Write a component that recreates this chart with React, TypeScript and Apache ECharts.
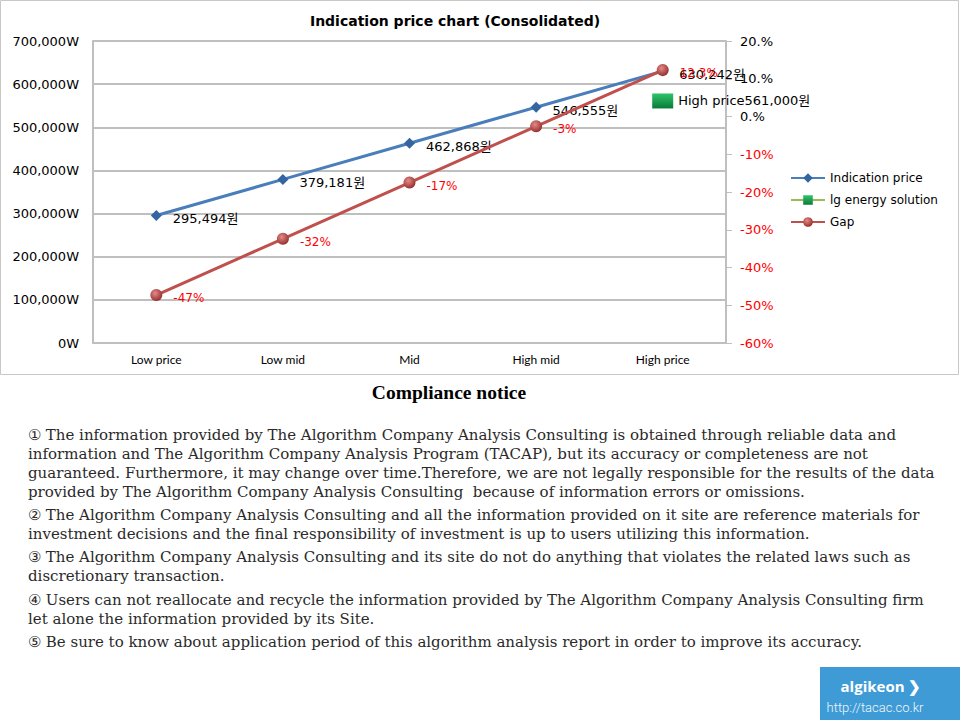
import React, { useEffect, useRef } from "react";
import * as echarts from "echarts";

const categories = ["Low price", "Low mid", "Mid", "High mid", "High price"];
const indicationPrice = [295494, 379181, 462868, 546555, 630242];
const lgEnergySolution = [null, null, null, null, 561000];
const gapValues = [-47.3, -32.4, -17.5, -2.6, 12.3];
const gapLabels = ["-47%", "-32%", "-17%", "-3%", "12.3%"];
const leftTicks = { min: 0, max: 700000, interval: 100000 };
const rightTicks = { min: -60, max: 20, interval: 10 };

const noticeLines: { text: string; y: number }[] = [
  { text: "① The information provided by The Algorithm Company Analysis Consulting is obtained through reliable data and", y: 435 },
  { text: "information and The Algorithm Company Analysis Program (TACAP), but its accuracy or completeness are not", y: 454 },
  { text: "guaranteed. Furthermore, it may change over time.Therefore, we are not legally responsible for the results of the data", y: 473 },
  { text: "provided by The Algorithm Company Analysis Consulting  because of information errors or omissions.", y: 492 },
  { text: "② The Algorithm Company Analysis Consulting and all the information provided on it site are reference materials for", y: 515 },
  { text: "investment decisions and the final responsibility of investment is up to users utilizing this information.", y: 534 },
  { text: "③ The Algorithm Company Analysis Consulting and its site do not do anything that violates the related laws such as", y: 557 },
  { text: "discretionary transaction.", y: 576 },
  { text: "④ Users can not reallocate and recycle the information provided by The Algorithm Company Analysis Consulting firm", y: 600 },
  { text: "let alone the information provided by its Site.", y: 619 },
  { text: "⑤ Be sure to know about application period of this algorithm analysis report in order to improve its accuracy.", y: 642 },
];

export default function App() {
  const ref = useRef<HTMLDivElement>(null);
  useEffect(() => {
    if (!ref.current) return;
    const chart = echarts.init(ref.current, null, { renderer: "svg" });
    const gray = "#BFBFBF";
    const option: any = {
      animation: false,
      backgroundColor: "#ffffff",
      grid: { left: 93, right: 234, top: 41, bottom: 377, containLabel: false },
      legend: {
        orient: "vertical",
        left: 785,
        top: 167,
        itemWidth: 34,
        itemHeight: 12,
        itemGap: 10,
        textStyle: { fontFamily: "DejaVu Sans", fontSize: 12, color: "#000" },
        data: ["Indication price", "lg energy solution", "Gap"],
      },
      xAxis: {
        type: "category",
        data: categories,
        boundaryGap: true,
        axisLine: { show: true, lineStyle: { color: gray, width: 2 } },
        axisTick: { show: false },
        axisLabel: { fontFamily: "Lato", fontSize: 12, color: "#000", margin: 10 },
      },
      yAxis: [
        {
          type: "value",
          min: leftTicks.min,
          max: leftTicks.max,
          interval: leftTicks.interval,
          axisLine: { show: true, lineStyle: { color: gray, width: 2 } },
          axisTick: { show: false },
          splitLine: { show: true, lineStyle: { color: gray, width: 2 } },
          axisLabel: {
            fontFamily: "DejaVu Sans",
            fontSize: 13,
            color: "#000",
            margin: 14,
            formatter: (v: number) => v.toLocaleString("en-US") + "W",
          },
        },
        {
          type: "value",
          min: rightTicks.min,
          max: rightTicks.max,
          interval: rightTicks.interval,
          position: "right",
          axisLine: { show: true, lineStyle: { color: gray, width: 2 } },
          axisTick: { show: true, length: 6, lineStyle: { color: gray, width: 1 } },
          splitLine: { show: false },
          axisLabel: {
            fontFamily: "DejaVu Sans",
            fontSize: 13,
            margin: 14,
            color: (v: any) => (Number(v) < 0 ? "#FF0000" : "#000000"),
            formatter: (v: number) => (v >= 0 ? v + ".%" : v + "%"),
          },
        },
      ],
      series: [
        {
          name: "Indication price",
          type: "line",
          yAxisIndex: 0,
          data: indicationPrice,
          symbol: "diamond",
          symbolSize: 11,
          color: "#4A7EBB",
          lineStyle: { color: "#4A7EBB", width: 3 },
          itemStyle: { color: "#3465A0" },
          label: {
            show: true,
            position: "right",
            offset: [6, 3],
            fontFamily: "DejaVu Sans, Noto Sans CJK KR",
            fontSize: 13,
            color: "#000",
            formatter: (p: any) => p.value.toLocaleString("en-US") + "원",
          },
          z: 2,
        },
        {
          name: "lg energy solution",
          type: "line",
          yAxisIndex: 0,
          data: lgEnergySolution,
          symbol: "rect",
          symbolSize: [21, 15],
          color: "#9BBB59",
          lineStyle: { color: "#9BBB59", width: 3 },
          itemStyle: {
            color: new echarts.graphic.LinearGradient(0, 0, 0, 1, [
              { offset: 0, color: "#2FC46A" },
              { offset: 1, color: "#0A7A37" },
            ]),
          },
          label: {
            show: true,
            position: "right",
            offset: [0, 0],
            fontFamily: "DejaVu Sans, Noto Sans CJK KR",
            fontSize: 13,
            color: "#000",
            formatter: (p: any) => "High price" + p.value.toLocaleString("en-US") + "원",
          },
          z: 3,
        },
        {
          name: "Gap",
          type: "line",
          yAxisIndex: 1,
          data: gapValues,
          symbol: "circle",
          symbolSize: 12,
          color: "#BE4B48",
          lineStyle: { color: "#C0504D", width: 3 },
          itemStyle: {
            color: new echarts.graphic.RadialGradient(0.4, 0.35, 0.7, [
              { offset: 0, color: "#E58A87" },
              { offset: 1, color: "#8E2A28" },
            ]),
          },
          label: {
            show: true,
            position: "right",
            offset: [6, 3],
            fontFamily: "DejaVu Sans",
            fontSize: 12,
            color: "#FF0000",
            formatter: (p: any) => gapLabels[p.dataIndex],
          },
          z: 4,
        },
      ],
      graphic: [
        {
          type: "rect",
          shape: { x: 0.5, y: 0.5, width: 958, height: 374 },
          style: { fill: "none", stroke: "#C8C8C8", lineWidth: 1 },
          silent: true,
        },
        {
          type: "text",
          x: 455,
          y: 21,
          style: {
            text: "Indication price chart (Consolidated)",
            font: "bold 14px 'DejaVu Sans'",
            fill: "#000",
            textAlign: "center",
            textVerticalAlign: "middle",
          },
        },
        {
          type: "text",
          x: 449,
          y: 392,
          style: {
            text: "Compliance notice",
            font: "bold 19.5px 'Liberation Serif'",
            fill: "#000",
            textAlign: "center",
            textVerticalAlign: "middle",
          },
        },
        ...noticeLines.map((l) => ({
          type: "text",
          x: 28,
          y: l.y,
          style: {
            text: l.text,
            font: "15px 'DejaVu Serif'",
            fill: "#2a2a2a",
            textAlign: "left",
            textVerticalAlign: "middle",
          },
        })),
        {
          type: "rect",
          shape: { x: 820, y: 667, width: 140, height: 53 },
          style: { fill: "#3E9BD6" },
        },
        {
          type: "text",
          x: 881,
          y: 686,
          style: {
            text: "algikeon ❯",
            font: "bold 15px 'Open Sans'",
            fill: "#fff",
            textAlign: "center",
            textVerticalAlign: "middle",
          },
        },
        {
          type: "text",
          x: 875,
          y: 707,
          style: {
            text: "http://tacac.co.kr",
            font: "300 13px 'Roboto'",
            fill: "#f2f8fc",
            textAlign: "center",
            textVerticalAlign: "middle",
          },
        },
      ],
    };
    chart.setOption(option);
    return () => chart.dispose();
  }, []);
  return (
    <div
      ref={ref}
      style={{ position: "absolute", left: 0, top: 0, width: 960, height: 720 }}
    />
  );
}
